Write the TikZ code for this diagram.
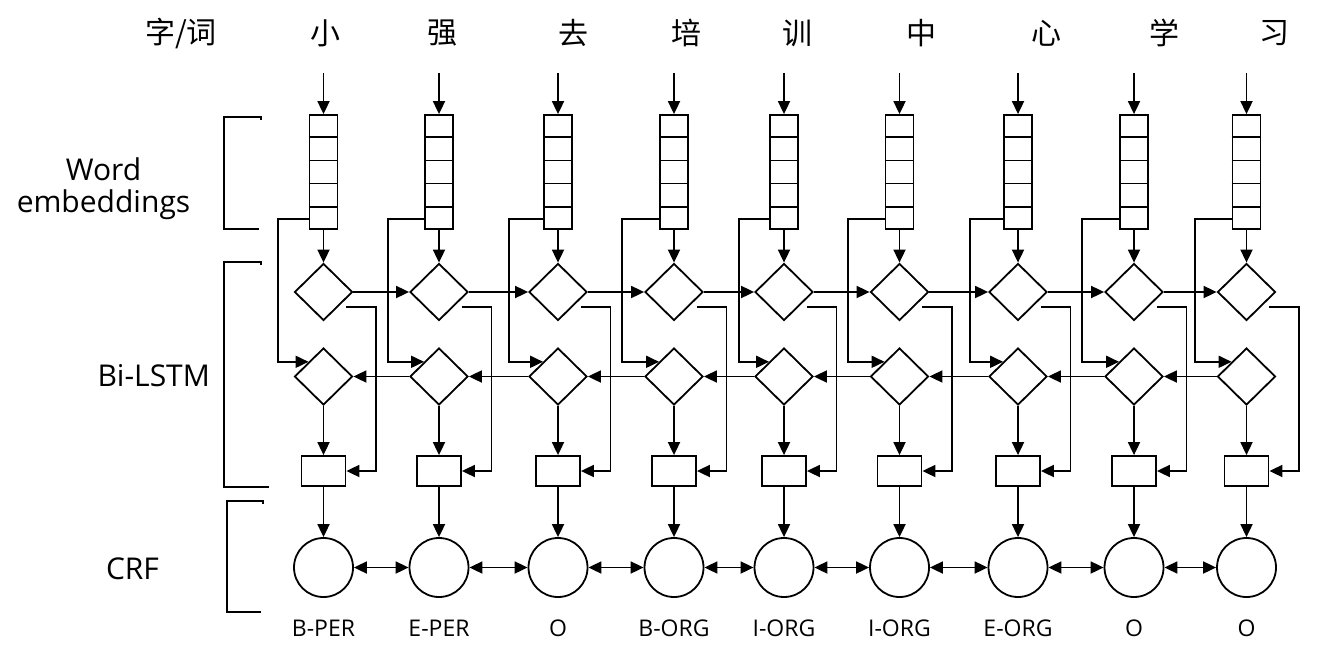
\documentclass[tikz,border=0pt]{standalone}
\usepackage{fontspec}
\setmainfont{Open Sans}
\newfontfamily\cjk{Noto Sans CJK SC}
\usetikzlibrary{arrows.meta,shapes.geometric,calc}
\begin{document}
\begin{tikzpicture}[x=1pt,y=-1pt,line width=1.8pt,
  arr/.style={-{Triangle[length=13pt,width=12pt]}},
  darr/.style={{Triangle[length=13pt,width=12pt]}-{Triangle[length=13pt,width=12pt]}},
  embbox/.style={draw,rectangle,minimum width=28pt,minimum height=114pt,inner sep=0pt},
  cellnode/.style={draw,diamond,minimum width=58pt,minimum height=57pt,inner sep=0pt},
  outbox/.style={draw,rectangle,minimum width=44pt,minimum height=30pt,inner sep=0pt},
  crfnode/.style={draw,circle,minimum size=59pt,inner sep=0pt},
  wordlabel/.style={font=\cjk\fontsize{30}{32}\selectfont,inner sep=0pt},
  taglabel/.style={font=\fontsize{23}{25}\selectfont,inner sep=0pt,anchor=base},
  sidelabel/.style={font=\fontsize{30}{32}\selectfont,align=center,inner sep=0pt},
  bracketline/.style={line width=1.8pt}]
\useasboundingbox (0,0) rectangle (1337,658);

% left labels and brackets
\node[wordlabel] (head) at (181,33) {字/词};
\node[sidelabel] (lemb) at (103.5,189) {Word\\embeddings};
\node[sidelabel] (llstm) at (153.7,376) {Bi-LSTM};
\node[sidelabel] (lcrf) at (132.5,569) {CRF};
\draw[bracketline] (261,120) -- (261,117) -- (224,117) -- (224,229) -- (259,229);
\draw[bracketline] (261,265) -- (261,262) -- (224,262) -- (224,487) -- (269,487);
\draw[bracketline] (263,504) -- (263,501) -- (227,501) -- (227,612) -- (261,612);

% columns
\foreach \i/\cx/\lo/\ch/\wx/\tg in {
  1/323.5/45/小/325/B-PER,
  2/439/50/强/442/E-PER,
  3/558/48/去/573/O,
  4/674/51/培/686/B-ORG,
  5/784/44/训/797/I-ORG,
  6/899.5/51/中/921/I-ORG,
  7/1018/47/心/1046/E-ORG,
  8/1134/51/学/1164/O,
  9/1246.5/51/习/1274/O}{
  \node[wordlabel] (w\i) at (\wx,33) {\ch};
  \coordinate (in\i) at (\cx,73);
  \node[embbox] (e\i) at (\cx,172) {};
  \foreach \k in {1,...,4}
    \draw ($(e\i.north west)!\k/5!(e\i.south west)$) -- ($(e\i.north east)!\k/5!(e\i.south east)$);
  \node[cellnode] (f\i) at (\cx,292) {};
  \node[cellnode] (b\i) at (\cx,376.5) {};
  \node[outbox] (o\i) at (\cx,471) {};
  \node[crfnode] (y\i) at (\cx,567.5) {};
  \node[taglabel] (t\i) at (\cx,636) {\tg};
  \draw[arr] (in\i) -- (e\i.north);
  \draw[arr] (e\i.south) -- (f\i.north);
  \draw[arr] ($(e\i.south west)+(0,-11)$) -- ++(-\lo+14,0) |- (b\i.north west);
  \draw[arr] ($(f\i.south east)+(8,0)$) -- ++(29.5,0) |- (o\i.east);
  \draw[arr] (b\i.south) -- (o\i.north);
  \draw[arr] (o\i.south) -- (y\i.north);
}

% horizontal connections
\foreach \i/\j in {1/2,2/3,3/4,4/5,5/6,6/7,7/8,8/9}{
  \draw[arr] (f\i.east) -- (f\j.west);
  \draw[arr] (b\j.west) -- (b\i.east);
  \draw[darr] (y\i.east) -- (y\j.west);
}
\end{tikzpicture}
\end{document}
